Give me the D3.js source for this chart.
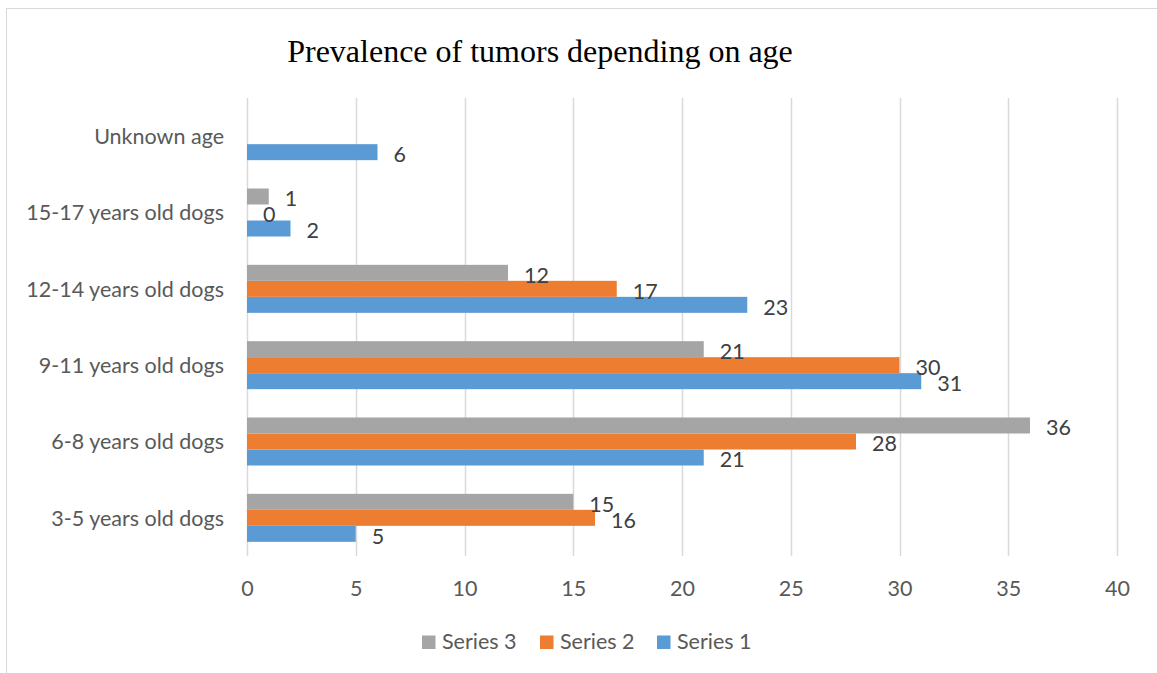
<!DOCTYPE html>
<html>
<head>
<meta charset="utf-8">
<script src="https://cdn.jsdelivr.net/npm/d3@7"></script>
<style>
  html, body { margin: 0; padding: 0; background: #fff; }
  svg { display: block; }
</style>
</head>
<body>
<svg id="chart" width="1157" height="673"></svg>
<script>
// Age groups, bottom to top as they appear on the axis
const categories = [
  "3-5 years old dogs",
  "6-8 years old dogs",
  "9-11 years old dogs",
  "12-14 years old dogs",
  "15-17 years old dogs",
  "Unknown age"
];
const seriesNames = ["Series 1", "Series 2", "Series 3"];
const series1 = [5, 21, 31, 23, 2, 6];
const series2 = [16, 28, 30, 17, 0, null];
const series3 = [15, 36, 21, 12, 1, null];
const xTicks = [0, 5, 10, 15, 20, 25, 30, 35, 40];
const title = "Prevalence of tumors depending on age";

const colors = { "Series 1": "#5B9BD5", "Series 2": "#ED7D31", "Series 3": "#A5A5A5" };
const seriesValues = { "Series 1": series1, "Series 2": series2, "Series 3": series3 };

const svg = d3.select("#chart");
const textColor = "#595959";
const font = "Lato, 'Open Sans', sans-serif";
const fontSize = 21.5;

// chart frame
svg.append("rect")
  .attr("x", 6.5).attr("y", 8.5)
  .attr("width", 1300).attr("height", 800)
  .attr("fill", "none").attr("stroke", "#d9d9d9").attr("stroke-width", 1);

// title
svg.append("text")
  .attr("x", 540).attr("y", 62)
  .attr("text-anchor", "middle")
  .attr("font-family", "'Liberation Serif', 'Times New Roman', serif")
  .attr("font-size", 32)
  .attr("fill", "#000")
  .text(title);

const plot = { left: 247, right: 1117, top: 98, bottom: 556 };

const x = d3.scaleLinear().domain([0, 40]).range([plot.left, plot.right]);

const y0 = d3.scaleBand()
  .domain(categories)
  .range([plot.bottom, plot.top])
  .paddingInner(0.371)
  .paddingOuter(0.1855);

const y1 = d3.scaleBand()
  .domain(["Series 3", "Series 2", "Series 1"])
  .range([0, y0.bandwidth()]);

// vertical gridlines
svg.append("g")
  .selectAll("line")
  .data(xTicks)
  .join("line")
  .attr("x1", d => Math.round(x(d)) + 0.5)
  .attr("x2", d => Math.round(x(d)) + 0.5)
  .attr("y1", plot.top)
  .attr("y2", plot.bottom)
  .attr("stroke", "#d9d9d9")
  .attr("stroke-width", 1.5);

// x axis tick labels
const xAxis = d3.axisBottom(x).tickValues(xTicks).tickSize(0).tickPadding(0);
const gx = svg.append("g")
  .attr("transform", `translate(0, 596)`)
  .call(xAxis);
gx.select(".domain").remove();
gx.selectAll("text")
  .attr("dy", 0)
  .attr("font-family", font)
  .attr("font-size", fontSize)
  .attr("fill", textColor);

// category labels
const yAxis = d3.axisLeft(y0).tickSize(0).tickPadding(0);
const gy = svg.append("g")
  .attr("transform", `translate(${plot.left - 23}, 1)`)
  .call(yAxis);
gy.select(".domain").remove();
gy.selectAll("text")
  .attr("font-family", font)
  .attr("font-size", fontSize)
  .attr("fill", textColor);

// bars and value labels
const rows = [];
categories.forEach((c, i) => {
  seriesNames.forEach(s => {
    const v = seriesValues[s][i];
    if (v !== null && v !== undefined) rows.push({ cat: c, series: s, value: v });
  });
});

svg.append("g")
  .selectAll("rect")
  .data(rows)
  .join("rect")
  .attr("x", x(0))
  .attr("y", d => y0(d.cat) + y1(d.series))
  .attr("width", d => x(d.value) - x(0))
  .attr("height", y1.bandwidth())
  .attr("fill", d => colors[d.series]);

svg.append("g")
  .selectAll("text")
  .data(rows)
  .join("text")
  .attr("x", d => x(d.value) + 16)
  .attr("y", d => y0(d.cat) + y1(d.series) + y1.bandwidth() / 2)
  .attr("dy", "0.45em")
  .attr("font-family", font)
  .attr("font-size", fontSize)
  .attr("fill", "#404040")
  .text(d => d.value);

// legend
const legendItems = [
  { name: "Series 3", x: 422 },
  { name: "Series 2", x: 540 },
  { name: "Series 1", x: 657 }
];
const lg = svg.append("g");
legendItems.forEach(item => {
  lg.append("rect")
    .attr("x", item.x).attr("y", 635.5)
    .attr("width", 13.5).attr("height", 13.5)
    .attr("fill", colors[item.name]);
  lg.append("text")
    .attr("x", item.x + 20).attr("y", 649)
    .attr("font-family", font)
    .attr("font-size", fontSize)
    .attr("fill", textColor)
    .text(item.name);
});
</script>
</body>
</html>
